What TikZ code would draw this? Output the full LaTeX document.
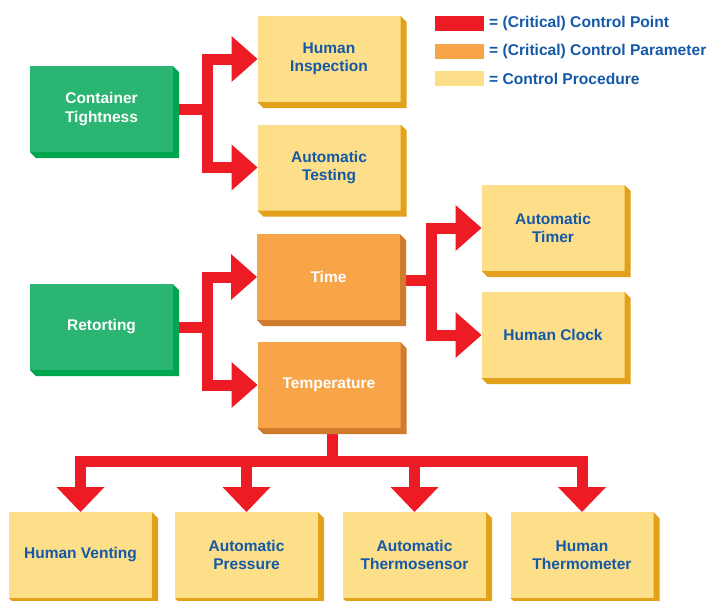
\documentclass[tikz,border=0pt]{standalone}
\usepackage{fontspec}
\setmainfont{Liberation Sans}
\usetikzlibrary{calc,backgrounds}

\definecolor{ccpred}{HTML}{ED1C24}
\definecolor{greenface}{HTML}{2BB573}
\definecolor{greenside}{HTML}{00A64F}
\definecolor{orangeface}{HTML}{F8A54A}
\definecolor{orangeside}{HTML}{CF7C2D}
\definecolor{yellowface}{HTML}{FDDE89}
\definecolor{yellowside}{HTML}{E2A01B}
\definecolor{labelblue}{HTML}{1459A8}

% draw the bevelled 3D edge (right and bottom) of a box node
\newcommand\boxedge[2]{%
  \fill[#2] (#1.north east) -- ++(6,6) |- ($(#1.south west)+(6,6)$)
    -- (#1.south west) -- (#1.south east) -- cycle;}
% arrowheads pointing right into a node's west side / down onto its north side
\newcommand\tipright[1]{\fill[ccpred] (#1.west) -- ++(-26,-23) -- ++(0,46) -- cycle;}
\newcommand\tipdown[1]{\fill[ccpred] (#1.north) -- ++(-24,-25) -- ++(48,0) -- cycle;}

\tikzset{
  box/.style={minimum width=143pt, minimum height=86pt, inner sep=0pt, outer sep=0pt,
    align=center, font=\fontsize{15.5}{18.3}\selectfont\bfseries},
  pointbox/.style={box, fill=greenface, text=white},
  parambox/.style={box, fill=orangeface, text=white},
  procbox/.style={box, fill=yellowface, text=labelblue},
  conn/.style={draw=ccpred, line width=11pt, line join=miter, line cap=butt},
  swatch/.style={minimum width=49pt, minimum height=15pt, inner sep=0pt, outer sep=0pt},
  legendtext/.style={anchor=west, inner sep=0pt, text=labelblue,
    font=\fontsize{15.6}{18.3}\selectfont\bfseries},
}

\begin{document}
\begin{tikzpicture}[x=1pt, y=-1pt]
\useasboundingbox (0,0) rectangle (707,600);

% legend
\node[swatch, fill=ccpred] (sw1) at (459.5,23.5) {};
\node[swatch, fill=orangeface] (sw2) at (459.5,51) {};
\node[swatch, fill=yellowface] (sw3) at (459.5,78.5) {};
\node[legendtext] (lg1) at (489,23.5) {= (Critical) Control Point};
\node[legendtext] (lg2) at (489,51) {= (Critical) Control Parameter};
\node[legendtext] (lg3) at (489,78.5) {= Control Procedure};

% control points
\node[pointbox] (ct) at (101.5,109) {Container\\Tightness};
\node[pointbox] (ret) at (101.5,327) {Retorting};

% parameters and procedures
\node[procbox] (hi) at (329,59) {Human\\Inspection};
\node[procbox] (at) at (329,167.5) {Automatic\\Testing};
\node[parambox] (time) at (328.5,277) {Time};
\node[parambox] (temp) at (329,385) {Temperature};
\node[procbox] (atim) at (553,228) {Automatic\\Timer};
\node[procbox] (hc) at (553,335) {Human Clock};

\node[procbox] (hv) at (80.5,555) {Human Venting};
\node[procbox] (ap) at (246.5,555) {Automatic\\Pressure};
\node[procbox] (ats) at (414.5,555) {Automatic\\Thermosensor};
\node[procbox] (ht) at (582,555) {Human\\Thermometer};

% bevelled edges
\boxedge{ct}{greenside}
\boxedge{ret}{greenside}
\boxedge{hi}{yellowside}
\boxedge{at}{yellowside}
\boxedge{time}{orangeside}
\boxedge{temp}{orangeside}
\boxedge{atim}{yellowside}
\boxedge{hc}{yellowside}
\boxedge{hv}{yellowside}
\boxedge{ap}{yellowside}
\boxedge{ats}{yellowside}
\boxedge{ht}{yellowside}

% connectors
\begin{scope}[on background layer]
  % Container Tightness -> inspection / testing
  \coordinate (ctj) at ($(hi.west)+(-50,0)$);
  \draw[conn] ($(hi.west)+(-24,0)$) -- (ctj) |- ($(at.west)+(-24,0)$);
  \draw[conn] (ct.east) -- (ct.east -| ctj);
  % Retorting -> time / temperature
  \coordinate (rj) at ($(time.west)+(-50,0)$);
  \draw[conn] ($(time.west)+(-24,0)$) -- (rj) |- ($(temp.west)+(-24,0)$);
  \draw[conn] (ret.east) -- (ret.east -| rj);
  % Time -> timer / clock
  \coordinate (tj) at ($(atim.west)+(-50,0)$);
  \coordinate (tout) at ($(time.east)+(0,3)$);
  \draw[conn] ($(atim.west)+(-24,0)$) -- (tj) |- ($(hc.west)+(-24,0)$);
  \draw[conn] (tout) -- (tout -| tj);
  % Temperature -> measuring procedures
  \coordinate (bus) at ($(hv.north)+(0,-51)$);
  \coordinate (tdown) at ($(temp.south)+(3,0)$);
  \draw[conn] ($(hv.north)+(0,-23)$) -- (bus) -| ($(ht.north)+(0,-23)$);
  \draw[conn] (tdown) -- (tdown |- bus);
  \draw[conn] ($(ap.north)+(0,-23)$) -- (ap.north |- bus);
  \draw[conn] ($(ats.north)+(0,-23)$) -- (ats.north |- bus);
\end{scope}

% arrowheads
\tipright{hi}
\tipright{at}
\tipright{time}
\tipright{temp}
\tipright{atim}
\tipright{hc}
\tipdown{hv}
\tipdown{ap}
\tipdown{ats}
\tipdown{ht}
\end{tikzpicture}
\end{document}
